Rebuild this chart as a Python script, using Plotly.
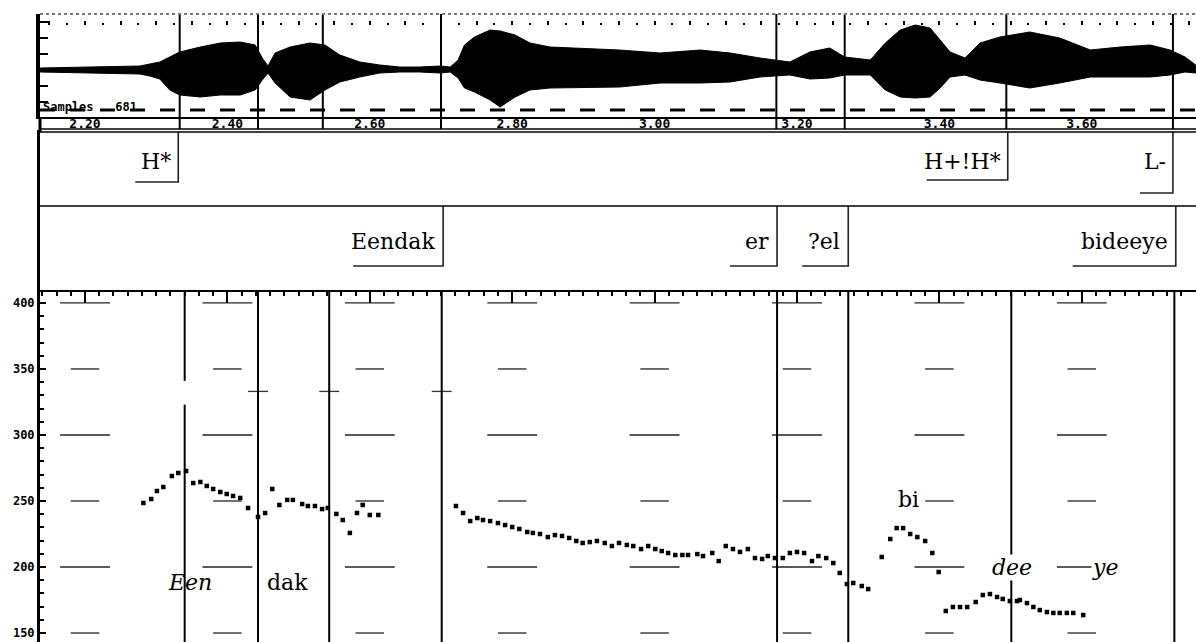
import plotly.graph_objects as go

# ---------------- data ----------------
time_ticks = [2.2, 2.4, 2.6, 2.8, 3.0, 3.2, 3.4, 3.6]
time_tick_labels = ["2.20", "2.40", "2.60", "2.80", "3.00", "3.20", "3.40", "3.60"]
hz_ticks = [150, 200, 250, 300, 350, 400]
hz_tick_labels = ["150", "200", "250", "300", "350", "400"]

# waveform amplitude envelope (arbitrary units)
env_t = [2.137, 2.221, 2.277, 2.291, 2.305, 2.319, 2.333, 2.362, 2.390, 2.418,
         2.439, 2.449, 2.457, 2.467, 2.488, 2.516, 2.537, 2.558, 2.586, 2.614,
         2.642, 2.670, 2.699, 2.713, 2.724, 2.733, 2.747, 2.769, 2.783, 2.804,
         2.825, 2.853, 2.895, 2.951, 3.008, 3.064, 3.106, 3.148, 3.190, 3.218,
         3.246, 3.267, 3.303, 3.324, 3.345, 3.366, 3.387, 3.401, 3.415, 3.436,
         3.457, 3.485, 3.527, 3.569, 3.612, 3.654, 3.696, 3.724, 3.745, 3.760]
env_top = [2, 3, 4, 6, 8, 13, 18, 23, 27, 28,
           25, 12, 4, 17, 23, 27, 25, 15, 8, 5,
           3, 3, 4, 3, 10, 25, 33, 40, 39, 35,
           27, 23, 22, 20, 17, 20, 17, 12, 8, 18,
           22, 13, 10, 27, 40, 45, 42, 30, 18, 12,
           27, 33, 38, 32, 20, 23, 25, 20, 13, 5]
env_bot = [-2, -3, -4, -6, -9, -20, -25, -27, -25, -25,
           -20, -10, -3, -13, -27, -30, -20, -12, -7, -3,
           -2, -2, -3, -2, -8, -18, -22, -30, -37, -27,
           -20, -18, -18, -17, -13, -13, -12, -7, -5, -9,
           -8, -5, -5, -20, -27, -28, -27, -18, -7, -5,
           -10, -13, -18, -13, -7, -7, -7, -5, -2, -3]

# segment boundaries (s)
wave_marks = [2.333, 2.443, 2.534, 2.700, 3.171, 3.267, 3.494, 3.728]
pitch_marks = [2.340, 2.443, 2.543, 2.701, 3.172, 3.272, 3.501, 3.730]

# label tiers
tone_labels = ["H*", "H+!H*", "L-"]
tone_times = [2.331, 3.496, 3.728]
word_labels = ["Eendak", "er", "?el", "bideeye"]
word_times = [2.703, 3.172, 3.272, 3.732]

# F0 track (s, Hz)
f0_t = [2.282, 2.293, 2.301, 2.310, 2.322, 2.331, 2.342, 2.352, 2.362, 2.371,
        2.380, 2.390, 2.399, 2.408, 2.418, 2.429, 2.443, 2.453, 2.463, 2.473,
        2.484, 2.492, 2.505, 2.513, 2.523, 2.533, 2.541, 2.553, 2.562, 2.572,
        2.582, 2.590, 2.600, 2.612,
        2.721, 2.731, 2.741, 2.751, 2.759, 2.769, 2.780, 2.790, 2.800, 2.810,
        2.821, 2.829, 2.839, 2.850, 2.860, 2.870, 2.880, 2.890, 2.899, 2.909,
        2.919, 2.930, 2.940, 2.950, 2.961, 2.970, 2.981, 2.991, 3.001, 3.010,
        3.019, 3.029, 3.039, 3.047, 3.060, 3.068, 3.081, 3.090, 3.100, 3.110,
        3.120, 3.131, 3.141, 3.151, 3.159, 3.169, 3.180, 3.190, 3.200, 3.210,
        3.221, 3.230, 3.241, 3.251, 3.260, 3.270, 3.279, 3.291, 3.300,
        3.319, 3.331, 3.340, 3.349, 3.359, 3.369, 3.380, 3.390, 3.399,
        3.409, 3.419, 3.429, 3.439, 3.451, 3.461, 3.471, 3.481, 3.489, 3.499,
        3.509, 3.513, 3.523, 3.532, 3.541, 3.551, 3.560, 3.569, 3.579, 3.588,
        3.602]
f0_hz = [248.5, 251.5, 257.6, 260.6, 268.9, 271.2, 272.7, 263.6, 264.4, 261.4,
         259.1, 256.8, 255.3, 253.8, 252.3, 244.7, 237.9, 240.9, 259.1, 247.0,
         250.8, 250.8, 247.7, 246.2, 246.2, 243.9, 244.7, 240.2, 235.6, 225.8,
         240.9, 247.0, 239.4, 239.4,
         246.2, 240.9, 234.8, 237.1, 235.6, 234.8, 233.3, 231.8, 230.3, 228.8,
         226.5, 225.8, 225.0, 222.7, 224.2, 223.5, 222.0, 219.7, 218.2, 218.9,
         219.7, 218.2, 215.9, 218.2, 216.7, 215.9, 213.6, 215.9, 213.6, 212.1,
         210.6, 209.1, 209.1, 209.1, 209.8, 208.3, 210.6, 204.5, 215.9, 213.6,
         211.4, 213.6, 206.8, 206.1, 208.3, 206.8, 206.8, 210.6, 211.4, 210.6,
         204.5, 208.3, 206.8, 203.0, 195.5, 187.1, 187.9, 185.6, 183.3,
         207.6, 221.2, 229.5, 229.5, 225.0, 222.7, 219.7, 210.6, 196.2,
         166.7, 169.7, 169.7, 169.7, 173.5, 178.8, 179.5, 177.3, 175.8, 174.2,
         174.2, 175.0, 172.7, 169.7, 167.4, 165.9, 165.2, 165.2, 165.2, 165.2,
         163.6]

# syllable annotations in the F0 panel
syll_labels = ["<i>Een</i>", "dak", "bi", "<i>dee</i>", "<i>ye</i>"]
syll_t = [2.348, 2.484, 3.357, 3.502, 3.633]
syll_hz = [188.5, 188.5, 251.0, 200.0, 200.0]
syll_masked = [False, False, False, True, True]

samples_text = "Samples   681"

# ---------------- style / layout constants ----------------
W, H = 1196, 642
PX_PER_S = 712.0
X_RANGE = [2.1368, 3.7604]
PITCH_RANGE = [143.2, 408.3]
WAVE_RANGE = [-47, 56]


def py(p):
    """pixel row -> paper fraction"""
    return 1 - p / H


MONO = dict(family="DejaVu Sans Mono", size=13, color="black", weight="bold")
SERIF = dict(family="DejaVu Serif", size=22, color="black")
TONE_Y, WORD_Y = 161, 241
TONE_UL_Y = [182, 180, 193]
WORD_UL_Y = 266
TONE_UL_LEN = [43, 81, 33]
WORD_UL_LEN = [90, 47, 46, 103]
TIER_TOP, TIER_SEP = 132, 206

fig = go.Figure()

# ---- waveform ----
fig.add_trace(go.Scatter(
    x=env_t + env_t[::-1], y=env_top + env_bot[::-1],
    xaxis="x2", yaxis="y2", mode="lines", fill="toself",
    fillcolor="black", line=dict(color="black", width=1),
    hoverinfo="skip", showlegend=False))
# dummy trace for the tick-mark row on top of the waveform
fig.add_trace(go.Scatter(x=[time_ticks[0]], y=[0], xaxis="x3", yaxis="y2",
                         mode="markers", marker=dict(opacity=0),
                         hoverinfo="skip", showlegend=False))

# ---- tier brackets ----
bx, by = [], []
for lab, t, uy, ln in zip(tone_labels, tone_times, TONE_UL_Y, TONE_UL_LEN):
    bx += [t - ln / PX_PER_S, t, t, None]
    by += [uy, uy, TIER_TOP, None]
for lab, t, ln in zip(word_labels, word_times, WORD_UL_LEN):
    bx += [t - ln / PX_PER_S, t, t, None]
    by += [WORD_UL_Y, WORD_UL_Y, TIER_SEP, None]
fig.add_trace(go.Scatter(x=bx, y=by, xaxis="x", yaxis="y3", mode="lines",
                         line=dict(color="#222", width=1.6),
                         hoverinfo="skip", showlegend=False))

# ---- pitch grid dashes ----
gx, gy = [], []
for hz in hz_ticks:
    hw = 0.035 if (hz // 50) % 2 == 0 else 0.02
    for t in time_ticks:
        gx += [t - hw, t + hw, None]
        gy += [hz, hz, None]
fig.add_trace(go.Scatter(x=gx, y=gy, mode="lines",
                         line=dict(color="#222", width=1.3),
                         hoverinfo="skip", showlegend=False))

# cursor remnants at ~333 Hz
cx, cy = [], []
for t in pitch_marks[1:4]:
    cx += [t - 0.014, t + 0.014, None]
    cy += [333, 333, None]
fig.add_trace(go.Scatter(x=cx, y=cy, mode="lines",
                         line=dict(color="#333", width=1.3),
                         hoverinfo="skip", showlegend=False))

# ---- F0 points ----
fig.add_trace(go.Scatter(x=f0_t, y=f0_hz, mode="markers",
                         marker=dict(symbol="square", size=4.5, color="black",
                                     line=dict(width=0)),
                         hoverinfo="skip", showlegend=False))

shapes = []
for t in wave_marks:
    shapes.append(dict(type="line", xref="x", yref="paper", x0=t, x1=t,
                       y0=py(129), y1=py(14), line=dict(color="black", width=2)))
for i, t in enumerate(pitch_marks):
    if i == 0:
        shapes.append(dict(type="line", xref="x", yref="y", x0=t, x1=t,
                           y0=341, y1=PITCH_RANGE[1], line=dict(color="black", width=2)))
        shapes.append(dict(type="line", xref="x", yref="y", x0=t, x1=t,
                           y0=PITCH_RANGE[0], y1=323, line=dict(color="black", width=2)))
    else:
        shapes.append(dict(type="line", xref="x", yref="y", x0=t, x1=t,
                           y0=PITCH_RANGE[0], y1=PITCH_RANGE[1],
                           line=dict(color="black", width=2)))
for p, w in [(129, 1.5), (132, 1.5), (206, 1.6)]:
    shapes.append(dict(type="line", xref="paper", yref="paper", x0=0, x1=1,
                       y0=py(p), y1=py(p), line=dict(color="black", width=w)))
shapes.append(dict(type="line", xref="paper", yref="paper", x0=0, x1=1,
                   y0=py(14), y1=py(14), line=dict(color="#777", width=2, dash="dot")))
shapes.append(dict(type="line", xref="paper", yref="paper", x0=0, x1=1,
                   y0=py(110), y1=py(110), line=dict(color="black", width=3, dash="longdash")))
shapes.append(dict(type="line", xref="paper", yref="paper", x0=0, x1=0,
                   y0=py(132), y1=py(117), line=dict(color="black", width=3)))

annotations = []
for lab, t in zip(tone_labels, tone_times):
    annotations.append(dict(x=t, y=TONE_Y, xref="x", yref="y3", text=lab,
                            xanchor="right", yanchor="middle", xshift=-5,
                            showarrow=False, font=SERIF))
for lab, t in zip(word_labels, word_times):
    annotations.append(dict(x=t, y=WORD_Y, xref="x", yref="y3", text=lab,
                            xanchor="right", yanchor="middle", xshift=-6,
                            showarrow=False, font=SERIF))
for lab, t, hz, m in zip(syll_labels, syll_t, syll_hz, syll_masked):
    annotations.append(dict(x=t, y=hz, xref="x", yref="y", text=lab,
                            xanchor="center", yanchor="middle", showarrow=False,
                            font=SERIF, bgcolor="white" if m else None,
                            borderpad=0))
annotations.append(dict(x=0, y=py(107), xref="paper", yref="paper", text=samples_text,
                        xanchor="left", yanchor="middle", xshift=1, showarrow=False,
                        font=dict(family="DejaVu Sans Mono", size=12, color="black",
                                  weight="bold")))

fig.update_layout(
    width=W, height=H,
    margin=dict(l=40, r=0, t=0, b=0),
    paper_bgcolor="white", plot_bgcolor="white",
    showlegend=False,
    shapes=shapes, annotations=annotations,
    xaxis=dict(domain=[0, 1], range=X_RANGE, anchor="y", side="top",
               showline=True, linecolor="black", linewidth=1.5,
               tickmode="array", tickvals=time_ticks, ticks="inside",
               ticklen=11, tickwidth=1.5, tickcolor="black",
               minor=dict(tick0=time_ticks[0], dtick=0.02, ticks="inside",
                          ticklen=4, tickwidth=1.5, tickcolor="black"),
               showticklabels=False, showgrid=False, zeroline=False),
    yaxis=dict(domain=[0, py(292)], range=PITCH_RANGE, anchor="x",
               showline=True, linecolor="black", linewidth=3,
               tickmode="array", tickvals=hz_ticks, ticktext=hz_tick_labels,
               ticks="inside", ticklen=6, tickwidth=1.5, tickcolor="black",
               minor=dict(dtick=10, tick0=0, ticks="inside", ticklen=4,
                          tickwidth=1.5, tickcolor="black"),
               tickfont=dict(family="DejaVu Sans Mono", size=12, color="black",
                             weight="bold"),
               showgrid=False, zeroline=False),
    xaxis2=dict(matches="x", anchor="y2", side="bottom", domain=[0, 1],
                showline=True, linecolor="black", linewidth=1.5,
                tickmode="array", tickvals=time_ticks, ticktext=time_tick_labels,
                ticks="", ticklabelstandoff=-6, tickfont=MONO,
                showgrid=False, zeroline=False),
    yaxis2=dict(domain=[py(117), py(14)], range=WAVE_RANGE, anchor="x2",
                showline=True, linecolor="black", linewidth=4,
                tick0=0, dtick=16, ticks="inside", ticklen=8, tickwidth=2,
                tickcolor="black", showticklabels=False, showgrid=False,
                zeroline=False),
    xaxis3=dict(matches="x", overlaying="x2", anchor="free", position=py(25),
                side="top", showline=False, tick0=2.2, dtick=0.05,
                ticks="outside", ticklen=4, tickwidth=2, tickcolor="black",
                minor=dict(tick0=2.225, dtick=0.05, ticks="outside", ticklen=2,
                           tickwidth=2, tickcolor="black"),
                showticklabels=False, showgrid=False, zeroline=False),
    yaxis3=dict(domain=[py(290), py(130)], range=[290, 130], anchor="x",
                showline=True, linecolor="black", linewidth=2.5,
                ticks="", showticklabels=False, showgrid=False, zeroline=False),
)

fig.write_html("out.html",
               config={"displayModeBar": False},
               post_script="document.body.style.margin='0';"
                           "document.body.style.overflow='hidden';")
